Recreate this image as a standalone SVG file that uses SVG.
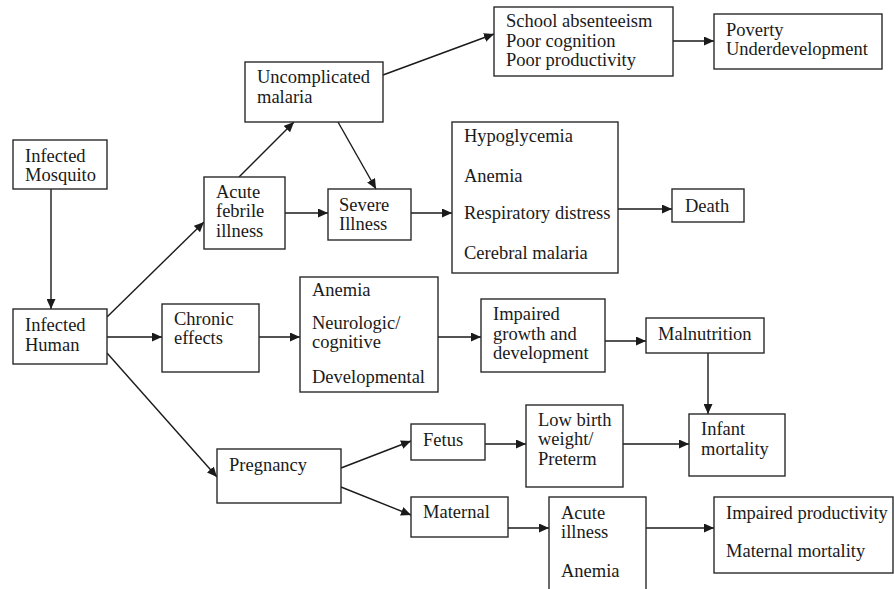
<svg xmlns="http://www.w3.org/2000/svg" width="894" height="589" viewBox="0 0 894 589">
<defs>
<marker id="ah" markerUnits="userSpaceOnUse" markerWidth="11" markerHeight="9" refX="10" refY="4.5" orient="auto">
<path d="M0,0 L10,4.5 L0,9 z" fill="#1a1a1a"/>
</marker>
</defs>
<style>
rect{fill:#fff;stroke:#2a2a2a;stroke-width:1.4}
text{font-size:18.5px;fill:#1a1a1a}
#connectors path{fill:none;stroke:#1a1a1a;stroke-width:1.4;marker-end:url(#ah)}
</style>
<rect x="0" y="0" width="894" height="589" style="fill:#fff;stroke:none"/>
<g id="connectors">
<path d="M51,189 L51,309"/>
<path d="M107,317 L204,222"/>
<path d="M239,177 L294,122"/>
<path d="M338,122 L376,189"/>
<path d="M383,75 L494,34"/>
<path d="M285,213 L328,213"/>
<path d="M411,213 L452,213"/>
<path d="M673,41 L714,41"/>
<path d="M618,209 L672,209"/>
<path d="M107,337 L162,337"/>
<path d="M259,337 L300,337"/>
<path d="M438,337 L481,337"/>
<path d="M605,341 L646,341"/>
<path d="M708,353 L708,414"/>
<path d="M107,353 L217,477"/>
<path d="M341,468 L411,441"/>
<path d="M341,487 L411,515"/>
<path d="M485,444 L526,444"/>
<path d="M623,444 L689,444"/>
<path d="M508,528 L549,528"/>
<path d="M646,528 L714,528"/>
</g>
<g font-family="'Liberation Serif', 'Times New Roman', 'DejaVu Serif', serif">
<g id="mosquito"><rect x="13" y="140" width="94" height="49"/><text x="25" y="162">Infected</text><text x="25" y="181">Mosquito</text></g>
<g id="human"><rect x="13" y="309" width="94" height="55"/><text x="25" y="331">Infected</text><text x="25" y="351">Human</text></g>
<g id="uncomplicated"><rect x="245" y="62" width="138" height="60"/><text x="257" y="83">Uncomplicated</text><text x="257" y="103">malaria</text></g>
<g id="acute"><rect x="204" y="177" width="81" height="72"/><text x="216" y="198">Acute</text><text x="216" y="217">febrile</text><text x="216" y="237">illness</text></g>
<g id="severe"><rect x="328" y="189" width="83" height="51"/><text x="339" y="211">Severe</text><text x="339" y="230">Illness</text></g>
<g id="school"><rect x="494" y="7" width="179" height="69"/><text x="506" y="27">School absenteeism</text><text x="506" y="47">Poor cognition</text><text x="506" y="66">Poor productivity</text></g>
<g id="poverty"><rect x="714" y="14" width="168" height="55"/><text x="726" y="36">Poverty</text><text x="726" y="55">Underdevelopment</text></g>
<g id="complications"><rect x="452" y="122" width="166" height="151"/><text x="464" y="142">Hypoglycemia</text><text x="464" y="182">Anemia</text><text x="464" y="219">Respiratory distress</text><text x="464" y="259">Cerebral malaria</text></g>
<g id="death"><rect x="672" y="189" width="72" height="33"/><text x="685" y="212">Death</text></g>
<g id="chronic"><rect x="162" y="304" width="97" height="68"/><text x="174" y="325">Chronic</text><text x="174" y="344">effects</text></g>
<g id="chronic-effects"><rect x="300" y="277" width="138" height="115"/><text x="312" y="296">Anemia</text><text x="312" y="329">Neurologic/</text><text x="312" y="348">cognitive</text><text x="312" y="383">Developmental</text></g>
<g id="impaired-growth"><rect x="481" y="299" width="124" height="73"/><text x="493" y="320">Impaired</text><text x="493" y="340">growth and</text><text x="493" y="359">development</text></g>
<g id="malnutrition"><rect x="646" y="318" width="118" height="35"/><text x="658" y="340">Malnutrition</text></g>
<g id="infant"><rect x="689" y="414" width="96" height="62"/><text x="701" y="435">Infant</text><text x="701" y="455">mortality</text></g>
<g id="pregnancy"><rect x="217" y="449" width="124" height="54"/><text x="229" y="471">Pregnancy</text></g>
<g id="fetus"><rect x="411" y="424" width="74" height="36"/><text x="423" y="446">Fetus</text></g>
<g id="lowbirth"><rect x="526" y="405" width="97" height="82"/><text x="538" y="426">Low birth</text><text x="538" y="445">weight/</text><text x="538" y="465">Preterm</text></g>
<g id="maternal"><rect x="411" y="497" width="97" height="40"/><text x="423" y="518">Maternal</text></g>
<g id="acute-illness"><rect x="549" y="497" width="97" height="100"/><text x="561" y="519">Acute</text><text x="561" y="538">illness</text><text x="561" y="577">Anemia</text></g>
<g id="maternal-outcomes"><rect x="714" y="497" width="179" height="76"/><text x="726" y="519">Impaired productivity</text><text x="726" y="557">Maternal mortality</text></g>
</g>
</svg>
